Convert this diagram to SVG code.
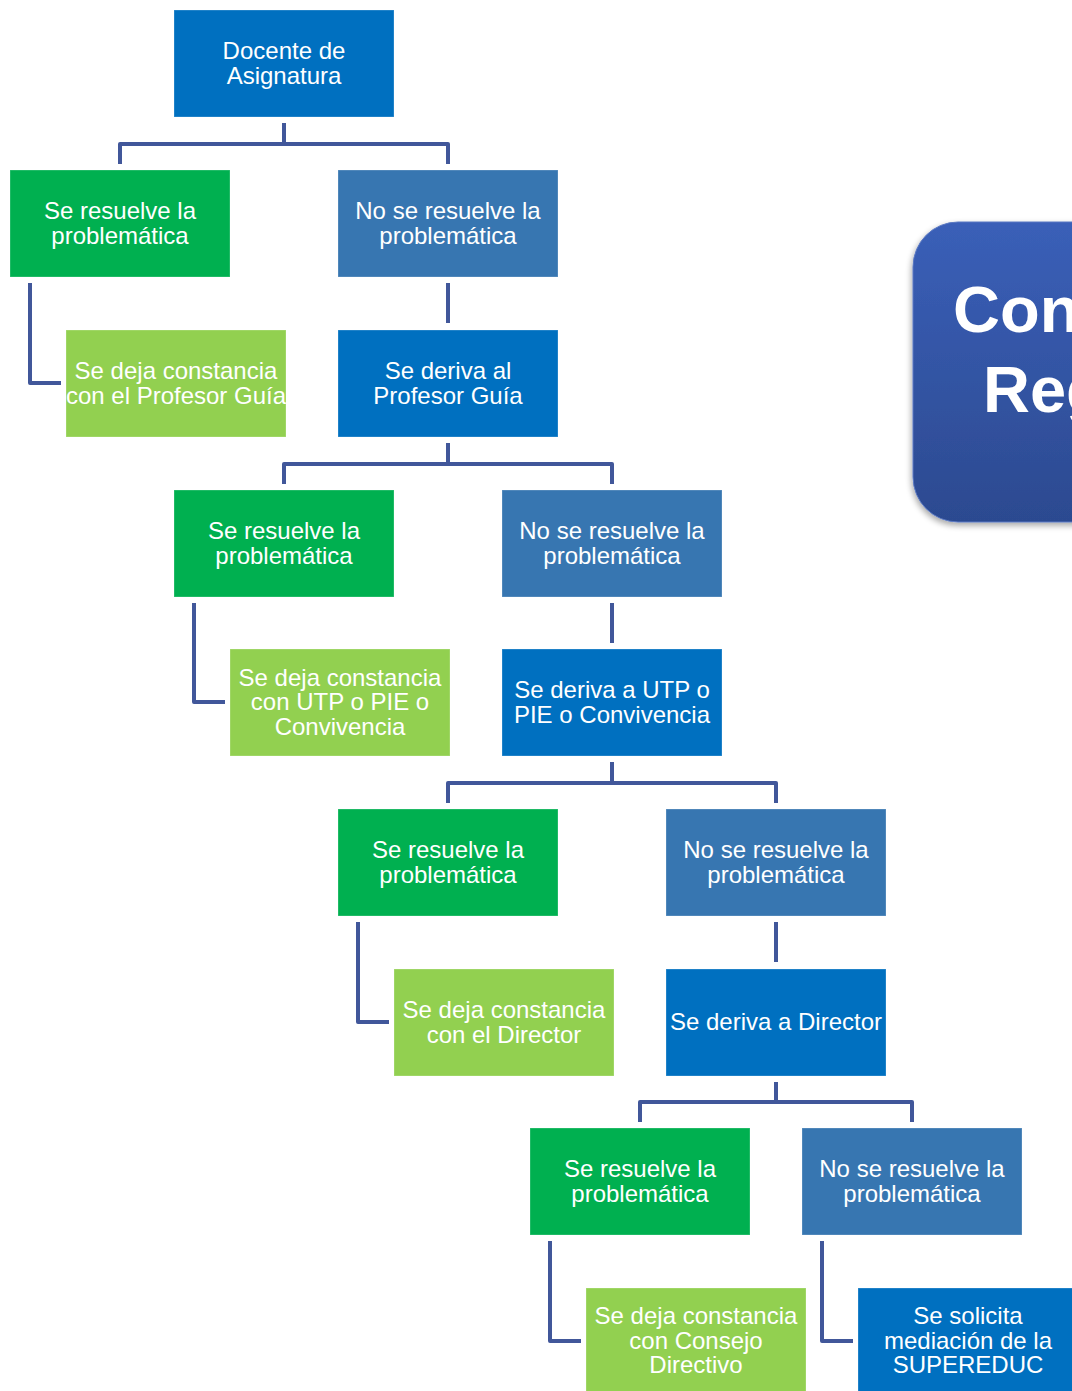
<svg xmlns="http://www.w3.org/2000/svg" width="1072" height="1391" viewBox="0 0 1072 1391">
  <style>
    .box { stroke: #ffffff; stroke-opacity: 0.25; stroke-width: 1; }
    .blue { fill: #0070C0; }
    .steel { fill: #3776B1; }
    .green { fill: #00B050; }
    .lime { fill: #92D050; }
    .lbl { font-family: "Liberation Sans", Arial, sans-serif; font-size: 24px; fill: #ffffff; text-anchor: middle; }
    .title { font-family: "Liberation Sans", Arial, sans-serif; font-size: 65px; font-weight: bold; fill: #ffffff; }
    .conn { fill: none; stroke: #41579A; stroke-width: 4; stroke-linejoin: round; stroke-linecap: butt; }
  </style>
  <defs>
    <linearGradient id="panelFill" x1="0" y1="0" x2="0" y2="1">
      <stop offset="0" stop-color="#3A5FB8"/>
      <stop offset="1" stop-color="#2C4A90"/>
    </linearGradient>
    <filter id="panelShadow" x="-20%" y="-20%" width="140%" height="140%">
      <feGaussianBlur in="SourceAlpha" stdDeviation="3"/>
      <feOffset dx="-1" dy="3" result="b"/>
      <feComponentTransfer><feFuncA type="linear" slope="0.35"/></feComponentTransfer>
      <feMerge><feMergeNode/><feMergeNode in="SourceGraphic"/></feMerge>
    </filter>
  </defs>

  <!-- title panel on the right -->
  <g id="title-panel">
    <rect x="913" y="222" width="260" height="300" rx="45" ry="45" fill="url(#panelFill)" stroke="#5B79C2" stroke-width="1" filter="url(#panelShadow)"/>
    <text class="title" x="953" y="332">Con</text>
    <text class="title" x="983" y="412">Reg</text>
  </g>

  <!-- connectors -->
  <g id="connectors" class="conn">
    <path d="M284,123 V144 M120,164 V144 H448 V164"/>
    <path d="M30,283 V383 H61"/>
    <path d="M448,283 V323"/>
    <path d="M448,443 V464 M284,484 V464 H612 V484"/>
    <path d="M194,603 V702 H225"/>
    <path d="M612,603 V643"/>
    <path d="M612,762 V783 M448,803 V783 H776 V803"/>
    <path d="M358,922 V1022 H389"/>
    <path d="M776,922 V962"/>
    <path d="M776,1082 V1102 M640,1122 V1102 H912 V1122"/>
    <path d="M550,1241 V1341 H581"/>
    <path d="M822,1241 V1341 H853"/>
  </g>

  <!-- level 0 -->
  <g id="docente">
    <rect class="box blue" x="174" y="10" width="220" height="107"/>
    <text class="lbl" x="284" y="59">Docente de</text>
    <text class="lbl" x="284" y="83.5">Asignatura</text>
  </g>

  <!-- level 1 -->
  <g id="resuelve-1">
    <rect class="box green" x="10" y="170" width="220" height="107"/>
    <text class="lbl" x="120" y="219">Se resuelve la</text>
    <text class="lbl" x="120" y="243.5">problemática</text>
  </g>
  <g id="no-resuelve-1">
    <rect class="box steel" x="338" y="170" width="220" height="107"/>
    <text class="lbl" x="448" y="219">No se resuelve la</text>
    <text class="lbl" x="448" y="243.5">problemática</text>
  </g>
  <g id="constancia-profesor-guia">
    <rect class="box lime" x="66" y="330" width="220" height="107"/>
    <text class="lbl" x="176" y="379">Se deja constancia</text>
    <text class="lbl" x="176" y="403.5">con el Profesor Guía</text>
  </g>
  <g id="deriva-profesor-guia">
    <rect class="box blue" x="338" y="330" width="220" height="107"/>
    <text class="lbl" x="448" y="379">Se deriva al</text>
    <text class="lbl" x="448" y="403.5">Profesor Guía</text>
  </g>

  <!-- level 2 -->
  <g id="resuelve-2">
    <rect class="box green" x="174" y="490" width="220" height="107"/>
    <text class="lbl" x="284" y="539">Se resuelve la</text>
    <text class="lbl" x="284" y="563.5">problemática</text>
  </g>
  <g id="no-resuelve-2">
    <rect class="box steel" x="502" y="490" width="220" height="107"/>
    <text class="lbl" x="612" y="539">No se resuelve la</text>
    <text class="lbl" x="612" y="563.5">problemática</text>
  </g>
  <g id="constancia-utp">
    <rect class="box lime" x="230" y="649" width="220" height="107"/>
    <text class="lbl" x="340" y="685.5">Se deja constancia</text>
    <text class="lbl" x="340" y="710">con UTP o PIE o</text>
    <text class="lbl" x="340" y="734.5">Convivencia</text>
  </g>
  <g id="deriva-utp">
    <rect class="box blue" x="502" y="649" width="220" height="107"/>
    <text class="lbl" x="612" y="698">Se deriva a UTP o</text>
    <text class="lbl" x="612" y="722.5">PIE o Convivencia</text>
  </g>

  <!-- level 3 -->
  <g id="resuelve-3">
    <rect class="box green" x="338" y="809" width="220" height="107"/>
    <text class="lbl" x="448" y="858">Se resuelve la</text>
    <text class="lbl" x="448" y="882.5">problemática</text>
  </g>
  <g id="no-resuelve-3">
    <rect class="box steel" x="666" y="809" width="220" height="107"/>
    <text class="lbl" x="776" y="858">No se resuelve la</text>
    <text class="lbl" x="776" y="882.5">problemática</text>
  </g>
  <g id="constancia-director">
    <rect class="box lime" x="394" y="969" width="220" height="107"/>
    <text class="lbl" x="504" y="1018">Se deja constancia</text>
    <text class="lbl" x="504" y="1042.5">con el Director</text>
  </g>
  <g id="deriva-director">
    <rect class="box blue" x="666" y="969" width="220" height="107"/>
    <text class="lbl" x="776" y="1030">Se deriva a Director</text>
  </g>

  <!-- level 4 -->
  <g id="resuelve-4">
    <rect class="box green" x="530" y="1128" width="220" height="107"/>
    <text class="lbl" x="640" y="1177">Se resuelve la</text>
    <text class="lbl" x="640" y="1201.5">problemática</text>
  </g>
  <g id="no-resuelve-4">
    <rect class="box steel" x="802" y="1128" width="220" height="107"/>
    <text class="lbl" x="912" y="1177">No se resuelve la</text>
    <text class="lbl" x="912" y="1201.5">problemática</text>
  </g>
  <g id="constancia-consejo">
    <rect class="box lime" x="586" y="1288" width="220" height="107"/>
    <text class="lbl" x="696" y="1324">Se deja constancia</text>
    <text class="lbl" x="696" y="1348.5">con Consejo</text>
    <text class="lbl" x="696" y="1373">Directivo</text>
  </g>
  <g id="mediacion-supereduc">
    <rect class="box blue" x="858" y="1288" width="220" height="107"/>
    <text class="lbl" x="968" y="1324">Se solicita</text>
    <text class="lbl" x="968" y="1348.5">mediación de la</text>
    <text class="lbl" x="968" y="1373">SUPEREDUC</text>
  </g>
</svg>
